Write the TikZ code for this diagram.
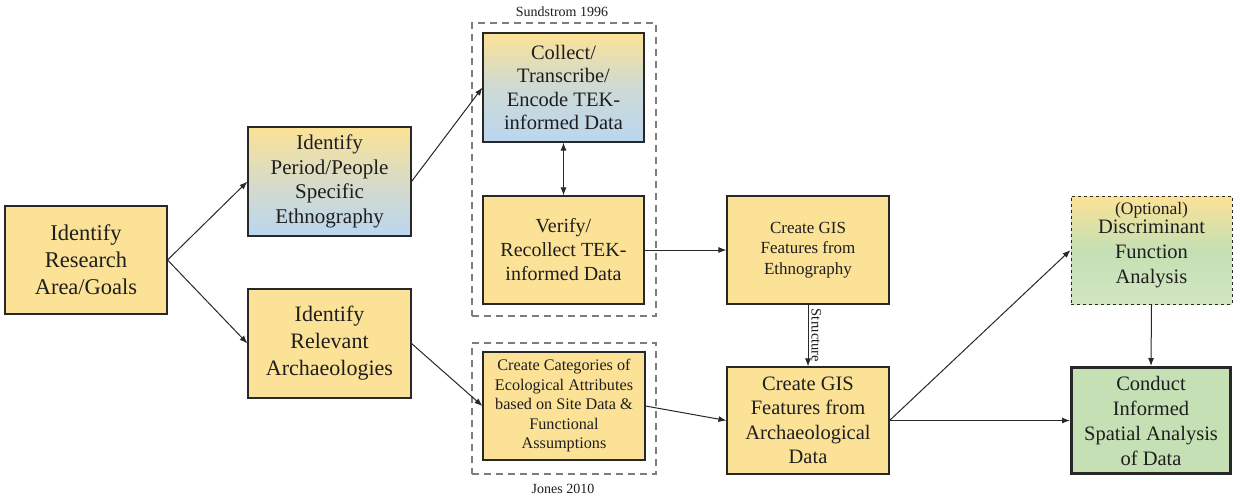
\documentclass[tikz,border=0pt]{standalone}
\usepackage{fontspec}
\setmainfont{Liberation Serif}
\usetikzlibrary{arrows.meta,calc}
\definecolor{boxyellow}{RGB}{252,226,150}
\definecolor{boxblue}{RGB}{186,214,240}
\definecolor{boxgreen}{RGB}{197,224,180}
\definecolor{edgegray}{RGB}{40,40,40}
\definecolor{framegray}{RGB}{125,125,125}
\definecolor{inktext}{RGB}{30,30,30}
\newcommand{\fs}[2]{\fontsize{#1}{#2}\selectfont}
\tikzset{
  box/.style={draw=edgegray, line width=1.1pt, fill=boxyellow, text=inktext,
    align=center, inner sep=0pt, rectangle},
  frame/.style={draw=framegray, line width=1.8pt, dash pattern=on 7pt off 5pt,
    rectangle, inner sep=0pt},
  conn/.style={draw=edgegray, line width=1pt, -{Latex[length=8pt,width=6pt]}},
  biconn/.style={draw=edgegray, line width=1pt, {Latex[length=8pt,width=6pt]}-{Latex[length=8pt,width=6pt]}},
  note/.style={text=inktext, inner sep=0pt}
}
\begin{document}
\begin{tikzpicture}[x=1pt,y=-1pt]
\useasboundingbox[fill=white] (0,0) rectangle (1233,499);

% source frames
\node[frame, minimum width=184pt, minimum height=293pt] (sund) at (564,169.5) {};
\node[frame, minimum width=184pt, minimum height=131pt] (jones) at (564,408.5) {};
\node[note, font=\fs{14}{15}] (sundlbl) at (562,12) {Sundstrom 1996};
\node[note, font=\fs{14}{15}] (joneslbl) at (563,489) {Jones 2010};

% process boxes
\node[box, minimum width=162pt, minimum height=108pt, font=\fs{22.5}{27}] (goals) at (86,260)
  {Identify\\Research\\Area/Goals};
\node[box, top color=boxyellow, bottom color=boxblue, middle color=boxblue!55!boxyellow,
  minimum width=163pt, minimum height=109pt, font=\fs{21}{24.5}] (ethnog) at (329.5,181.5)
  {Identify\\Period/People\\Specific\\Ethnography};
\node[box, minimum width=163pt, minimum height=109pt, font=\fs{22}{27}] (archaeo) at (329.5,343.5)
  {Identify\\Relevant\\Archaeologies};
\node[box, top color=boxyellow, bottom color=boxblue, middle color=boxblue!70!boxyellow,
  minimum width=161pt, minimum height=109pt, font=\fs{20.5}{23.5}] (collect) at (563.5,87.5)
  {Collect/\\Transcribe/\\Encode TEK-\\informed Data};
\node[box, minimum width=161pt, minimum height=108pt, font=\fs{20}{24}] (verify) at (563.5,250)
  {Verify/\\Recollect TEK-\\informed Data};
\node[box, minimum width=162pt, minimum height=108pt, font=\fs{16.2}{19.5}] (categ) at (564,406)
  {Create Categories of\\Ecological Attributes\\based on Site Data \&\\Functional\\Assumptions};
\node[box, minimum width=162pt, minimum height=108pt, font=\fs{17}{20.5}] (gisethno) at (808,250)
  {Create GIS\\Features from\\Ethnography};
\node[box, minimum width=162pt, minimum height=107pt, font=\fs{20.5}{24.5}] (gisarch) at (808,420.5)
  {Create GIS\\Features from\\Archaeological\\Data};
\node[box, dashed, line width=0.9pt, top color=boxyellow, bottom color=boxgreen!80!white,
  middle color=boxgreen, minimum width=161pt, minimum height=108pt] (dfa) at (1151.5,250) {};
\node[note, align=center, font=\fs{20.5}{25}] (dfatext) at ($(dfa.center)+(0,-5)$)
  {{\fs{17.5}{15}(Optional)}\\[-6pt]Discriminant\\Function\\Analysis};
\node[box, fill=boxgreen, line width=3pt, minimum width=159pt, minimum height=106pt,
  font=\fs{20.5}{25}] (spatial) at (1151,420.5)
  {Conduct\\Informed\\Spatial Analysis\\of Data};

% connectors
\draw[conn] (goals.east) -- (ethnog.west);
\draw[conn] (goals.east) -- (archaeo.west);
\draw[conn] (ethnog.east) -- (collect.west);
\draw[conn] (archaeo.east) -- (categ.west);
\draw[biconn] (collect.south) -- (verify.north);
\draw[conn] (verify.east) -- (gisethno.west);
\draw[conn] (categ.east) -- (gisarch.west);
\draw[conn] (gisethno.south) -- node[note, right=3pt, rotate=-90, anchor=south, font=\fs{14.5}{15}] (structlbl) {Structure} (gisarch.north);
\draw[conn] (gisarch.east) -- (dfa.west);
\draw[conn] (gisarch.east) -- (spatial.west);
\draw[conn] (dfa.south) -- (spatial.north);
\end{tikzpicture}
\end{document}
